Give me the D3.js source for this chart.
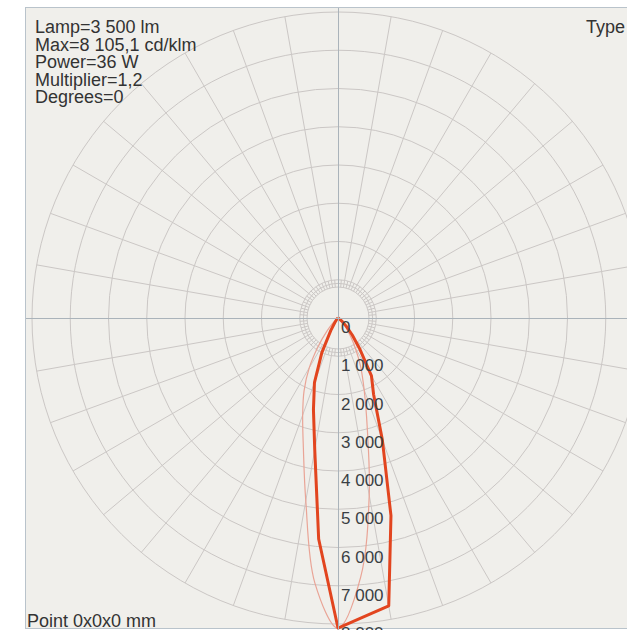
<!DOCTYPE html>
<html><head><meta charset="utf-8">
<script src="https://cdn.jsdelivr.net/npm/d3@7"></script>
<style>
html,body{margin:0;padding:0;background:#fff;}
svg{display:block;}
text{font-family:"Liberation Sans",Arial,sans-serif;}
</style></head>
<body>
<svg id="chart" width="627" height="630"></svg>
<script>
// ---- data ----
const infoLines = ["Lamp=3 500 lm", "Max=8 105,1 cd/klm", "Power=36 W", "Multiplier=1,2", "Degrees=0"];
const typeLabel = "Type";
const pointLabel = "Point 0x0x0 mm";
const ringValues = [1000, 2000, 3000, 4000, 5000, 6000, 7000, 8000];
const ringLabels = ["0", "1 000", "2 000", "3 000", "4 000", "5 000", "6 000", "7 000", "8 000"];
const labelValues = [0, 1000, 2000, 3000, 4000, 5000, 6000, 7000, 8000];
const gammaAngles = [-90,-85,-80,-75,-70,-65,-60,-55,-50,-45,-40,-35,-30,-25,-20,-15,-10,-5,0,5,10,15,20,25,30,35,40,45,50,55,60,65,70,75,80,85,90];
// C0-C180 plane (thick)
const planeC0 = [0,0,0,0,0,0,0,0,10,30,60,150,380,1000,1800,2480,3500,5800,8105,7840,7640,5350,3390,2200,1750,1000,580,310,150,60,20,5,0,0,0,0,0];
// C90-C270 plane (thin)
const planeC90 = [0,0,0,0,0,0,0,20,80,200,450,900,1500,2100,2700,3500,4850,6950,8105,6800,4700,2950,2000,1400,900,550,300,160,70,25,8,0,0,0,0,0,0];

// ---- layout ----
const svg = d3.select("#chart");
const W = 627, H = 630;
const cx = 338, cy = 318;
const r = d3.scaleLinear().domain([0, 8000]).range([0, 306]);

svg.append("rect").attr("x", 25.5).attr("y", 7.5).attr("width", W).attr("height", 621)
  .attr("fill", "#f0efeb").attr("stroke", "#b9c3cb").attr("stroke-width", 1);

const g = svg.append("g").attr("transform", `translate(${cx},${cy})`);
const gridColor = "#cbc7c5";

// rings
g.selectAll("circle.ring").data(ringValues).enter().append("circle")
  .attr("r", d => r(d)).attr("fill", "none").attr("stroke", gridColor).attr("stroke-width", 1);
// hub circles
g.selectAll("circle.hub").data([810, 905]).enter().append("circle")
  .attr("r", d => r(d)).attr("fill", "none").attr("stroke", gridColor).attr("stroke-width", 1);

// radial lines every 10 deg
const rayAngles = d3.range(0, 360, 10).filter(a => a % 90 !== 0);
g.selectAll("line.ray").data(rayAngles).enter().append("line")
  .attr("x1", d => r(810) * Math.sin(d * Math.PI / 180))
  .attr("y1", d => -r(810) * Math.cos(d * Math.PI / 180))
  .attr("x2", d => r(8000) * Math.sin(d * Math.PI / 180))
  .attr("y2", d => -r(8000) * Math.cos(d * Math.PI / 180))
  .attr("stroke", gridColor).attr("stroke-width", 1);
// short ticks every 5 deg
const tickAngles = d3.range(5, 360, 10);
g.selectAll("line.tick").data(tickAngles).enter().append("line")
  .attr("x1", d => r(810) * Math.sin(d * Math.PI / 180))
  .attr("y1", d => -r(810) * Math.cos(d * Math.PI / 180))
  .attr("x2", d => r(1000) * Math.sin(d * Math.PI / 180))
  .attr("y2", d => -r(1000) * Math.cos(d * Math.PI / 180))
  .attr("stroke", gridColor).attr("stroke-width", 1);

// axes
svg.append("line").attr("x1", 26).attr("x2", W).attr("y1", cy + 0.5).attr("y2", cy + 0.5)
  .attr("stroke", "#aab3ba").attr("stroke-width", 1);
svg.append("line").attr("x1", cx + 0.5).attr("x2", cx + 0.5).attr("y1", 8).attr("y2", H)
  .attr("stroke", "#aab3ba").attr("stroke-width", 1);

// curves
const toAngle = d => Math.PI - d * Math.PI / 180;
const radial = d3.lineRadial().angle(d => toAngle(d[0])).radius(d => r(d[1]));
const thinData = gammaAngles.map((a, i) => [a, planeC90[i]]);
const thickData = gammaAngles.map((a, i) => [a, planeC0[i]]);
g.append("path").attr("d", radial.curve(d3.curveCatmullRom)(thinData))
  .attr("fill", "none").attr("stroke", "#e9a496").attr("stroke-width", 1.2);
g.append("path").attr("d", radial.curve(d3.curveLinear)(thickData))
  .attr("fill", "none").attr("stroke", "#e2451f").attr("stroke-width", 3).attr("stroke-linejoin", "round");

// ring labels
g.selectAll("text.rl").data(labelValues).enter().append("text")
  .attr("x", 3).attr("y", d => r(d) + 15)
  .attr("font-size", 17).attr("fill", "#3a3f44")
  .text((d, i) => ringLabels[i]);

// info text
svg.selectAll("text.info").data(infoLines).enter().append("text")
  .attr("x", 35).attr("y", (d, i) => 33 + i * 17.6)
  .attr("font-size", 18).attr("fill", "#333").text(d => d);
svg.append("text").attr("x", 586).attr("y", 33).attr("font-size", 18).attr("fill", "#333").text(typeLabel);
svg.append("text").attr("x", 27).attr("y", 627).attr("font-size", 18).attr("fill", "#333").text(pointLabel);
</script>
</body></html>
